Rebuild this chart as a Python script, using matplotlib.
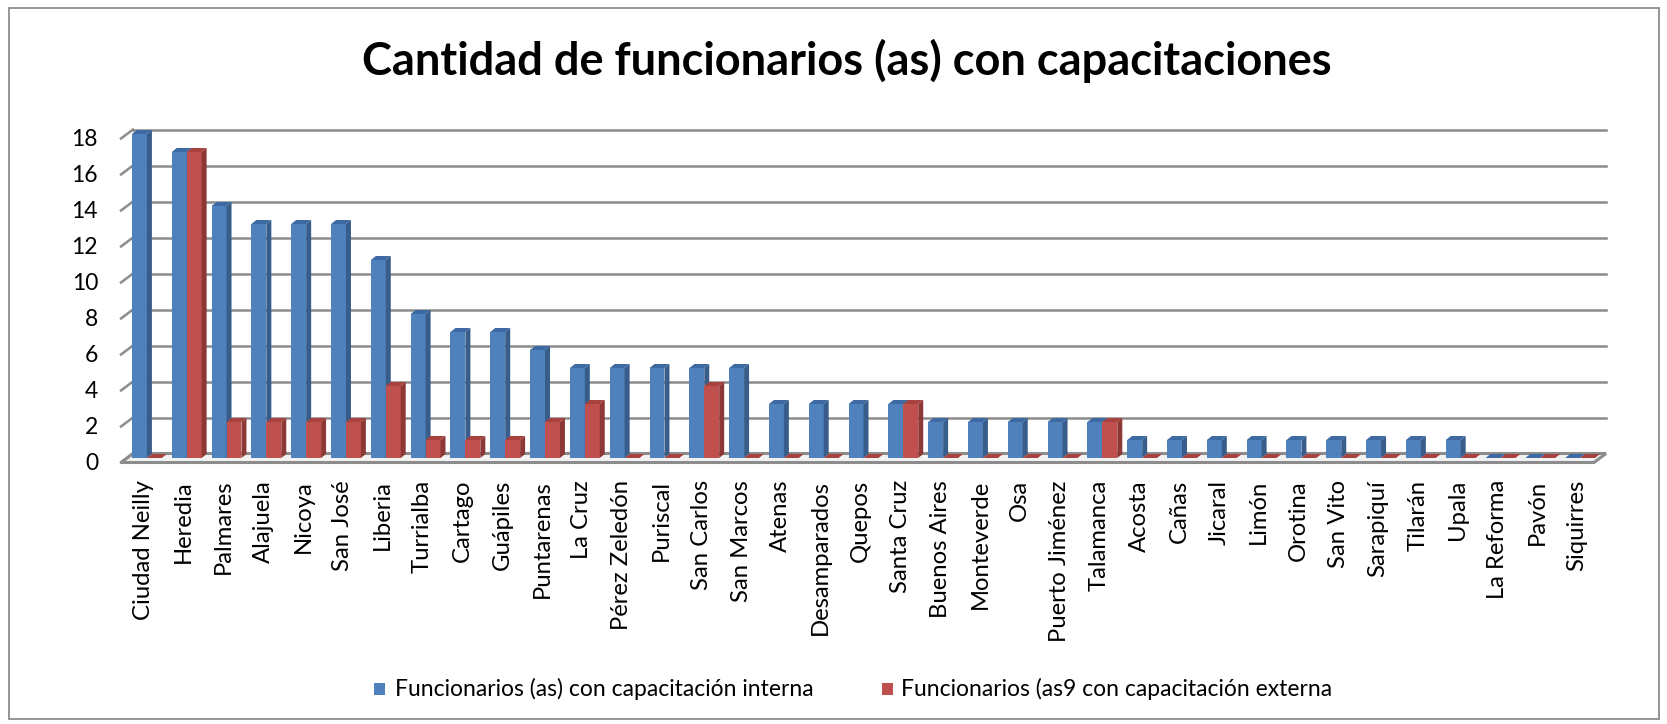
import matplotlib
matplotlib.use("Agg")
import matplotlib.pyplot as plt
from matplotlib.patches import Polygon, Rectangle
from matplotlib.transforms import ScaledTranslation, IdentityTransform

plt.rcParams["font.family"] = ["Lato", "DejaVu Sans"]

sedes = [
    "Ciudad Neilly", "Heredia", "Palmares", "Alajuela", "Nicoya", "San José",
    "Liberia", "Turrialba", "Cartago", "Guápiles", "Puntarenas", "La Cruz",
    "Pérez Zeledón", "Puriscal", "San Carlos", "San Marcos", "Atenas",
    "Desamparados", "Quepos", "Santa Cruz", "Buenos Aires", "Monteverde", "Osa",
    "Puerto Jiménez", "Talamanca", "Acosta", "Cañas", "Jicaral", "Limón",
    "Orotina", "San Vito", "Sarapiquí", "Tilarán", "Upala", "La Reforma",
    "Pavón", "Siquirres",
]
interna = [18, 17, 14, 13, 13, 13, 11, 8, 7, 7, 6, 5, 5, 5, 5, 5, 3, 3, 3, 3,
           2, 2, 2, 2, 2, 1, 1, 1, 1, 1, 1, 1, 1, 1, 0, 0, 0]
externa = [0, 17, 2, 2, 2, 2, 4, 1, 1, 1, 2, 3, 0, 0, 4, 0, 0, 0, 0, 3,
           0, 0, 0, 0, 2, 0, 0, 0, 0, 0, 0, 0, 0, 0, 0, 0, 0]
y_ticks = [0, 2, 4, 6, 8, 10, 12, 14, 16, 18]

titulo = "Cantidad de funcionarios (as) con capacitaciones"
serie_interna = "Funcionarios (as) con capacitación interna"
serie_externa = "Funcionarios (as9 con capacitación externa"

BLUE = ("#4F81BD", "#385D8A", "#3E6AA3")
RED = ("#C0504D", "#8C3836", "#A8423F")
GRID = "#8C8C8C"

W, H = 1667, 724
fig = plt.figure(figsize=(W / 100, H / 100), dpi=100)

# plot area (middle depth plane) in pixels
left, right, bottom, top = 127, 1600, 458, 134
ax = fig.add_axes([left / W, 1 - bottom / H, (right - left) / W, (bottom - top) / H])
n = len(sedes)
ax.set_xlim(-0.5, n - 0.5)
ax.set_ylim(0, 18)
ax.axis("off")

px_x = (right - left) / n
px_y = (bottom - top) / 18.0


def shift(dx, dy):
    return ax.transData + ScaledTranslation(dx / 100, dy / 100, fig.dpi_scale_trans)


back = shift(6, 4.5)
front = shift(-6, -4.5)

# floor
fx0, fx1 = -0.5, n - 0.5
pts = [front.transform((fx0, 0)), front.transform((fx1, 0)),
       back.transform((fx1, 0)), back.transform((fx0, 0))]
ax.add_patch(Polygon(pts, closed=True, transform=IdentityTransform(),
                     facecolor="#F2F2F2", edgecolor=GRID, linewidth=2.2,
                     zorder=1, clip_on=False))

# gridlines on back wall + slanted ticks on the side wall
for v in y_ticks:
    if v > 0:
        ax.plot([fx0, fx1], [v, v], color=GRID, linewidth=1.8, transform=back,
                clip_on=False, zorder=1)
    p0 = front.transform((fx0, v))
    p1 = back.transform((fx0, v))
    ax.plot([p0[0], p1[0]], [p0[1], p1[1]], color=GRID, linewidth=1.8,
            transform=IdentityTransform(), clip_on=False, zorder=1)
    ax.text(fx0, v, str(v), transform=shift(-29, -6), ha="right", va="center",
            fontsize=16.5)

bw = 0.375
ddx = 5 / px_x
ddy = 4 / px_y


def bar3d(x0, h, colors):
    fc, sc, tc = colors
    x1 = x0 + bw
    ax.add_patch(Rectangle((x0, 0), bw, h, facecolor=fc, edgecolor="none",
                           zorder=3, clip_on=False))
    ax.add_patch(Polygon([(x1, 0), (x1, h), (x1 + ddx, h + ddy), (x1 + ddx, ddy)],
                         facecolor=sc, edgecolor="none", zorder=3, clip_on=False))
    ax.add_patch(Polygon([(x0, h), (x1, h), (x1 + ddx, h + ddy), (x0 + ddx, h + ddy)],
                         facecolor=tc, edgecolor="none", zorder=3, clip_on=False))


for i in range(n):
    bar3d(i - bw, interna[i], BLUE)
    bar3d(i, externa[i], RED)

# category label size: fit two measured label lengths from the reference
renderer = fig.canvas.get_renderer()
ratios = []
for name, target in [("Ciudad Neilly", 140), ("Puerto Jiménez", 163)]:
    probe = fig.text(0, 0, name, fontsize=16)
    ratios.append(target / probe.get_window_extent(renderer).width)
    probe.remove()
lab_size = 16 * sum(ratios) / len(ratios)
for i, s in enumerate(sedes):
    ax.text(i, 0, s, rotation=90, ha="center", va="top", fontsize=lab_size,
            transform=shift(-3, -22))

fig.text(847 / W, 1 - 61 / H, titulo, ha="center", va="center",
         fontsize=32.5, fontweight="bold")

# legend
for xs, xt, lab, col in [(380, 395, serie_interna, BLUE[0]),
                         (888, 901, serie_externa, RED[0])]:
    fig.patches.append(Rectangle(((xs - 6) / W, 1 - 695 / H), 11 / W, 12 / H,
                                 transform=fig.transFigure, facecolor=col,
                                 edgecolor="none"))
    fig.text(xt / W, 1 - 689 / H, lab, ha="left", va="center", fontsize=16.5)

# chart border
fig.patches.append(Rectangle((9 / W, 1 - 719 / H), 1650 / W, 711 / H,
                             transform=fig.transFigure, facecolor="none",
                             edgecolor="#8C8C8C", linewidth=1.3))

fig.savefig("out.png", dpi=100)
